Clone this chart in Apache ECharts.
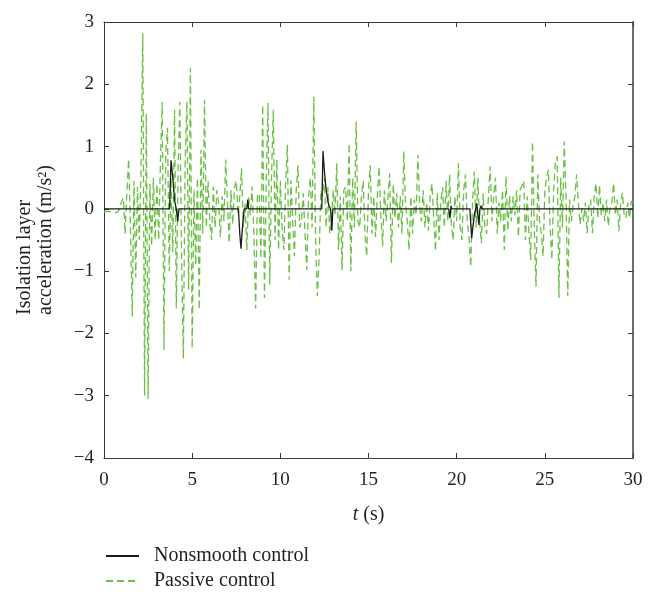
<!DOCTYPE html>
<html>
<head>
<meta charset="utf-8">
<script src="https://cdn.jsdelivr.net/npm/echarts@6/dist/echarts.min.js"></script>
<style>
  html, body { margin: 0; padding: 0; background: #fff; }
  #chart { width: 662px; height: 595px; }
</style>
</head>
<body>
<div id="chart"></div>
<script>
// passive control, sampled every 0.1 s from t = 0 to 30 s
const dt = 0.1;
const passive = [
  -0.05, -0.06, -0.04, -0.06, -0.05, -0.05, -0.06, -0.04, -0.05, 0.03,
  0.12, 0.18, -0.4, 0.3, 0.8, -0.3, -1.73, 0.45, -1.1, 0.35,
  -0.5, 0.6, 2.82, -3.0, 1.53, -3.05, 0.4, -0.6, 0.5, -0.5,
  0.4, -0.5, 0.75, 1.72, -2.26, 0.9, 1.3, -1.0, 0.5, -0.7,
  1.59, -1.6, 0.6, 1.72, -0.8, -2.4, 0.7, 1.72, -1.3, 2.26,
  -2.24, 0.3, -0.9, 0.5, -1.62, 0.95, -0.4, 1.75, -0.3, 0.45,
  -0.2, -0.5, 0.35, -0.3, 0.3, 0.1, -0.45, 0.2, -0.2, 0.79,
  0.1, -0.55, 0.3, -0.25, 0.35, 0.45, -0.1, 0.2, 0.65, -0.3,
  0.1, -0.66, 0.2, -0.1, 0.36, -0.4, -1.6, 0.2, 0.25, -0.8,
  1.67, -1.43, 0.4, 1.7, -1.22, 0.5, 1.59, -0.5, 0.79, -0.66,
  0.45, -0.3, -0.66, 0.4, 1.03, -1.14, 0.46, -0.2, -0.76, 0.3,
  0.7, -0.3, -0.2, 0.25, -0.4, -0.98, 0.2, 0.5, -0.3, 1.8,
  -0.5, -1.4, -0.76, 0.3, 0.2, 0.5, -0.3, 0.35, -0.4, -0.2,
  0.3, -0.1, 0.73, -0.66, 0.2, -0.98, 0.3, 0.35, -0.2, 1.05,
  -1.0, 0.5, -0.3, 1.4, -0.2, -0.3, 0.2, 0.45, -0.4, -0.76,
  0.3, 0.7, -0.4, 0.2, -0.45, 0.2, 0.68, -0.1, -0.6, 0.3,
  -0.2, 0.15, 0.57, -0.87, 0.4, -0.15, 0.25, -0.3, 0.2, -0.4,
  0.92, 0.1, -0.2, -0.66, 0.2, -0.4, 0.15, -0.1, 0.87, 0.05,
  -0.2, 0.3, -0.3, 0.1, -0.35, 0.2, 0.4, -0.15, -0.68, 0.25,
  -0.5, 0.1, 0.35, -0.3, 0.45, -0.2, 0.55, -0.25, -0.5, 0.2,
  -0.2, 0.73, -0.3, -0.5, 0.3, 0.55, -0.2, -0.45, -0.93, 0.1,
  0.6, -0.3, 0.5, -0.2, -0.55, 0.25, -0.3, -0.4, 0.2, 0.68,
  -0.2, 0.2, 0.5, -0.4, 0.1, -0.2, 0.3, -0.66, 0.52, -0.35,
  0.2, -0.2, 0.2, -0.1, 0.3, -0.45, 0.3, 0.3, 0.45, -0.5,
  0.2, -0.4, -0.82, 1.08, -0.3, -1.25, 0.55, -0.2, -0.4, -0.76,
  0.3, 0.5, 0.63, -0.3, -0.82, 0.3, 0.76, 0.84, -1.43, 0.5,
  -0.3, 1.08, 0.2, -1.4, 0.15, -0.2, 0.05, 0.2, 0.55, 0.1,
  -0.25, 0.0, -0.2, 0.1, -0.39, 0.05, 0.15, -0.39, 0.2, 0.41,
  -0.15, 0.38, -0.1, 0.1, -0.2, 0.15, -0.28, 0.05, 0.1, 0.41,
  -0.1, 0.15, -0.36, 0.1, 0.26, -0.1, -0.15, 0.1, -0.15, 0.12,
  0.1
];

// nonsmooth control: [t, a] breakpoints, zero elsewhere
const nonsmooth = [
  [0, 0], [3.72, 0], [3.8, 0.78], [3.9, 0.5], [4.0, 0.15], [4.1, 0], [4.18, -0.2], [4.25, 0],
  [7.62, 0], [7.7, -0.4], [7.77, -0.64], [7.85, -0.3], [7.95, 0], [8.1, 0], [8.15, 0.15], [8.2, 0],
  [12.35, 0], [12.42, 0.93], [12.5, 0.6], [12.6, 0.3], [12.75, 0.05], [12.85, 0], [12.92, -0.35], [12.98, 0],
  [19.55, 0], [19.62, -0.15], [19.68, 0.05], [19.72, 0],
  [20.75, 0], [20.85, -0.47], [21.0, -0.1], [21.14, 0.09], [21.2, -0.1], [21.26, -0.26], [21.32, 0],
  [21.38, 0.05], [21.42, 0], [30, 0]
];

const seriesNames = ['Nonsmooth control', 'Passive control'];
const font = '"Liberation Serif", "DejaVu Serif", serif';
const textColor = '#231f20';
const axisColor = '#3a3a3a';

const minusFmt = v => String(v).replace('-', '\u2212');

const chart = echarts.init(document.getElementById('chart'));

const tickStyle = { show: true, inside: true, length: 5, lineStyle: { color: axisColor } };

chart.setOption({
  animation: false,
  backgroundColor: '#fff',
  grid: { left: 104, right: 29, top: 22, bottom: 137 },
  legend: {
    orient: 'vertical',
    left: 105,
    top: 546,
    padding: 0,
    itemWidth: 33,
    itemHeight: 14,
    itemGap: 5,
    data: seriesNames,
    itemStyle: { opacity: 0 },
    textStyle: { fontFamily: font, fontSize: 20, color: textColor, padding: [0, 0, 0, 10] }
  },
  xAxis: [
    {
      type: 'value', min: 0, max: 30, interval: 5,
      name: '{i|t} (s)', nameLocation: 'middle', nameGap: 47,
      nameTextStyle: {
        fontFamily: font, fontSize: 20, color: textColor,
        rich: { i: { fontFamily: font, fontSize: 20, fontStyle: 'italic', color: textColor } }
      },
      axisLine: { show: true, onZero: false, lineStyle: { color: axisColor, width: 1 } },
      axisTick: tickStyle,
      axisLabel: { fontFamily: font, fontSize: 19, color: textColor, margin: 13 },
      splitLine: { show: false }
    },
    {
      type: 'value', position: 'top', min: 0, max: 30, interval: 5,
      axisLine: { show: true, onZero: false, lineStyle: { color: axisColor, width: 1 } },
      axisTick: tickStyle,
      axisLabel: { show: false },
      splitLine: { show: false }
    }
  ],
  yAxis: [
    {
      type: 'value', min: -4, max: 3, interval: 1,
      name: '{a|Isolation layer}\n{a|acceleration (m/s\u00b2)}', nameLocation: 'middle', nameGap: 48,
      nameTextStyle: {
        fontFamily: font, fontSize: 20, color: textColor, lineHeight: 21,
        rich: { a: { fontFamily: font, fontSize: 20, color: textColor, lineHeight: 21, align: 'left' } }
      },
      axisLine: { show: true, onZero: false, lineStyle: { color: axisColor, width: 1 } },
      axisTick: tickStyle,
      axisLabel: { fontFamily: font, fontSize: 19, color: textColor, margin: 10, formatter: minusFmt },
      splitLine: { show: false }
    },
    {
      type: 'value', position: 'right', min: -4, max: 3, interval: 1,
      axisLine: { show: true, onZero: false, lineStyle: { color: '#6d6d6d', width: 2 } },
      axisTick: tickStyle,
      axisLabel: { show: false },
      splitLine: { show: false }
    }
  ],
  series: [
    {
      name: seriesNames[1],
      type: 'line',
      showSymbol: false,
      symbol: 'none',
      data: passive.map((v, i) => [+(i * dt).toFixed(1), v]),
      lineStyle: { color: '#6abf45', width: 1.3, type: [7, 4] },
      itemStyle: { color: '#6abf45' },
      z: 2
    },
    {
      name: seriesNames[0],
      type: 'line',
      showSymbol: false,
      symbol: 'none',
      data: nonsmooth,
      lineStyle: { color: '#1a1a1a', width: 1.3 },
      itemStyle: { color: '#1a1a1a' },
      z: 3
    }
  ]
});
</script>
</body>
</html>
